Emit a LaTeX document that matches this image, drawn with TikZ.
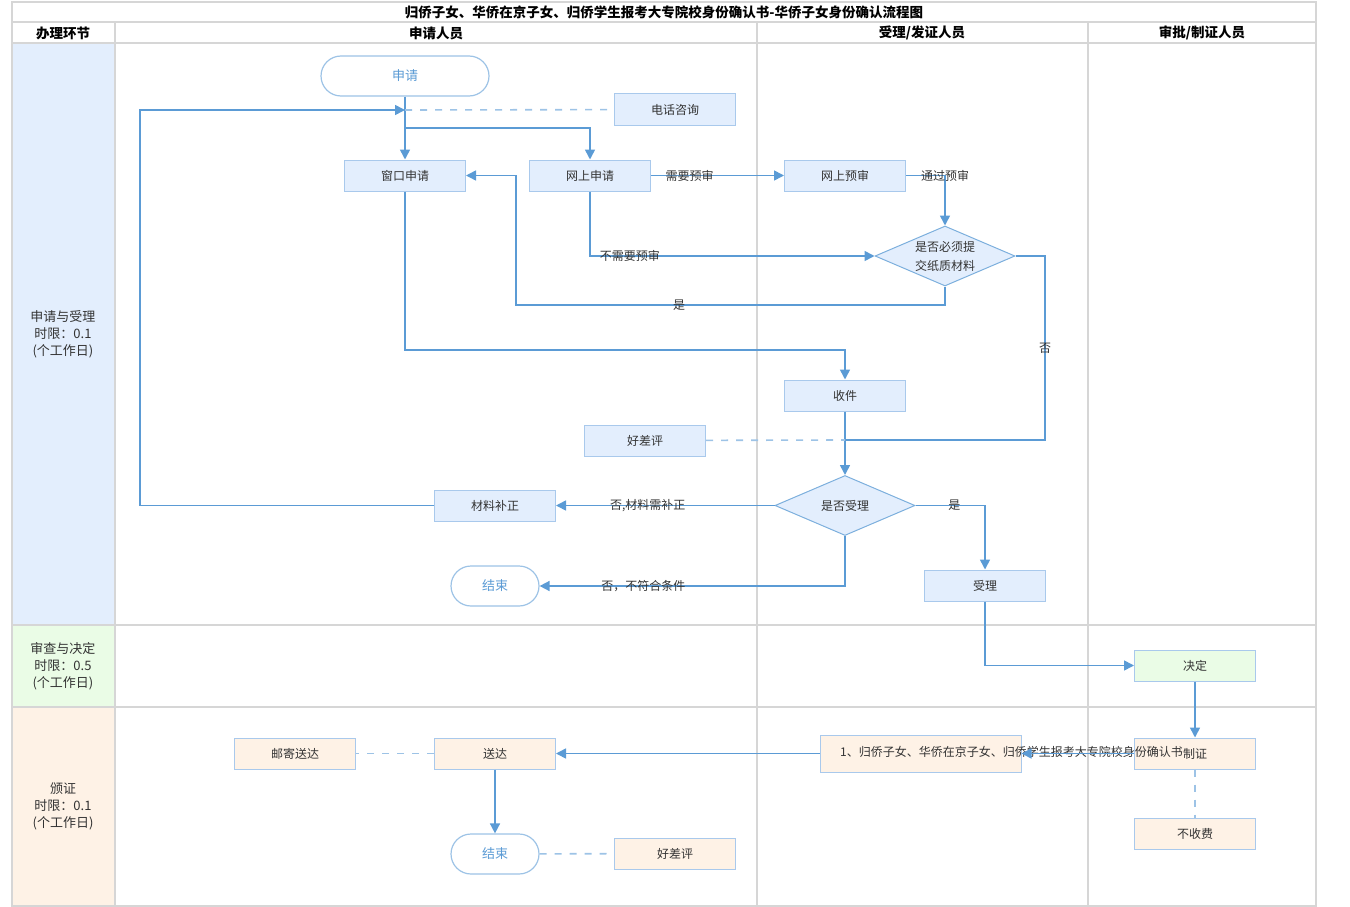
\documentclass[tikz,border=0pt]{standalone}
\usepackage{fontspec}
\setmainfont{Noto Sans CJK SC}
\usetikzlibrary{arrows.meta,shapes.geometric}
\definecolor{gridc}{HTML}{D6D6D6}
\definecolor{lnc}{HTML}{5B9BD5}
\definecolor{dashc}{HTML}{9DC3E6}
\definecolor{bfill}{HTML}{E3EEFD}
\definecolor{bdraw}{HTML}{A9C9EC}
\definecolor{gfill}{HTML}{EAFCE6}
\definecolor{ofill}{HTML}{FEF2E6}
\definecolor{txt}{HTML}{333333}
\tikzset{
  grid/.style={draw=gridc, line width=1.6pt},
  box/.style={draw=bdraw, line width=1pt, fill=bfill, minimum width=121pt, minimum height=31pt, inner sep=0pt, font=\fontsize{12}{14}\selectfont, text=txt},
  gbox/.style={box, fill=gfill},
  obox/.style={box, fill=ofill},
  pill/.style={draw=dashc, line width=1.2pt, fill=white, rounded corners=20pt, minimum height=40pt, inner sep=0pt, text=lnc, font=\fontsize{13}{15}\selectfont},
  dia/.style={diamond, draw=lnc!80, line width=1pt, fill=bfill, minimum width=140pt, minimum height=60pt, aspect=2.33, inner sep=0pt, align=center, font=\fontsize{12}{19}\selectfont, text=txt},
  flow/.style={draw=lnc, line width=1.6pt, -{Triangle[width=10pt,length=10pt]}},
  flown/.style={draw=lnc, line width=1.6pt},
  dsh/.style={draw=dashc, line width=1.6pt, dash pattern=on 7pt off 8pt},
  lbl/.style={font=\fontsize{12}{14}\selectfont, text=txt, inner sep=0pt},
  hdr/.style={font=\bfseries\fontsize{13.5}{15}\selectfont, text=black},
  phase/.style={font=\fontsize{13}{17}\selectfont, text=txt, align=center}
}
\begin{document}
\begin{tikzpicture}[x=1pt,y=-1pt]
\useasboundingbox (0,0) rectangle (1350,907);
% phase cells
\fill[bfill] (12,43) rectangle (115,625);
\fill[gfill] (12,625) rectangle (115,707);
\fill[ofill] (12,707) rectangle (115,906);
% grid
\draw[grid] (12,2) rectangle (1316,906);
\draw[grid] (12,22) -- (1316,22);
\draw[grid] (12,43) -- (1316,43);
\draw[grid] (12,625) -- (1316,625);
\draw[grid] (12,707) -- (1316,707);
\draw[grid] (115,22) -- (115,906);
\draw[grid] (757,22) -- (757,906);
\draw[grid] (1088,22) -- (1088,906);
% headers
\node[hdr] (title) at (664,12) {归侨子女、华侨在京子女、归侨学生报考大专院校身份确认书-华侨子女身份确认流程图};
\node[hdr] (h1) at (63,33) {办理环节};
\node[hdr] (h2) at (436,33) {申请人员};
\node[hdr] (h3) at (922,33) {受理/发证人员};
\node[hdr] (h4) at (1202,33) {审批/制证人员};
\node[phase] (p1) at (63,334) {申请与受理\\时限：0.1\\(个工作日)};
\node[phase] (p2) at (63,666) {审查与决定\\时限：0.5\\(个工作日)};
\node[phase] (p3) at (63,806) {颁证\\时限：0.1\\(个工作日)};
% nodes
\node[pill, minimum width=168pt] (start) at (405,76) {申请};
\node[box] (tel) at (675,109.5) {电话咨询};
\node[box] (win) at (405,175.5) {窗口申请};
\node[box] (web) at (590,175.5) {网上申请};
\node[box] (pre) at (845,175.5) {网上预审};
\node[dia] (d1) at (945,256) {是否必须提\\交纸质材料};
\node[box] (recv) at (845,395.5) {收件};
\node[box] (eval1) at (645,440.5) {好差评};
\node[dia] (d2) at (845,505.5) {是否受理};
\node[box] (fix) at (495,505.5) {材料补正};
\node[pill, minimum width=88pt] (end1) at (495,586) {结束};
\node[box] (acc) at (985,585.5) {受理};
\node[gbox] (dec) at (1195,665.5) {决定};
\node[obox] (make) at (1195,753.5) {制证};
\node[obox, minimum width=201pt, minimum height=37pt] (cert) at (920.5,753.5) {};
\node[lbl, anchor=west] (certt) at (840,751.5) {1、归侨子女、华侨在京子女、归侨学生报考大专院校身份确认书};
\node[obox] (free) at (1195,833.5) {不收费};
\node[obox] (deliv) at (495,753.5) {送达};
\node[obox] (mail) at (295,753.5) {邮寄送达};
\node[pill, minimum width=88pt] (end2) at (495,854) {结束};
\node[obox] (eval2) at (675,853.5) {好差评};
% coordinates
\coordinate (j1) at (405,110);
\coordinate (j2) at (405,128);
\coordinate (j3) at (845,440);
% connectors
\draw[flow] (start) -- (win);
\draw[flow] (j2) -| (web);
\draw[dsh] (j1) -- (tel);
\draw[flow] (fix.west) -- (140,505.5) -- (140,110) -- (j1);
\draw[flow] (web) -- (pre) node[lbl, pos=0.29] {需要预审};
\draw[flow] (pre.east) -| (d1.north) node[lbl, pos=0.5] {通过预审};
\draw[flow] (web.south) |- (d1.west) node[lbl, pos=0.57] {不需要预审};
\draw[flow] (d1.south) -- (945,305) -- (516,305) node[lbl, pos=0.62] {是} -- (516,175.5) -- (win.east);
\draw[flown] (d1.east) -- (1045,256) -- (1045,440) node[lbl, midway] {否} -- (j3);
\draw[flow] (win.south) -- (405,350) -- (845,350) -- (recv.north);
\draw[flow] (recv) -- (d2);
\draw[dsh] (eval1) -- (j3);
\draw[flow] (d2) -- (fix) node[lbl, pos=0.58] {否,材料需补正};
\draw[flow] (d2.south) |- (end1.east) node[lbl, pos=0.83] {否，不符合条件};
\draw[flow] (d2.east) -| (acc.north) node[lbl, pos=0.28] {是};
\draw[flow] (acc.south) |- (dec.west);
\draw[flow] (dec) -- (make);
\draw[flow] (make.west) -- (cert.east);
\draw[flow] (cert.west) -- (deliv.east);
\draw[dsh] (deliv) -- (mail);
\draw[flow] (deliv) -- (end2);
\draw[dsh] (end2) -- (eval2);
\draw[dsh] (make) -- (free);
\end{tikzpicture}
\end{document}
